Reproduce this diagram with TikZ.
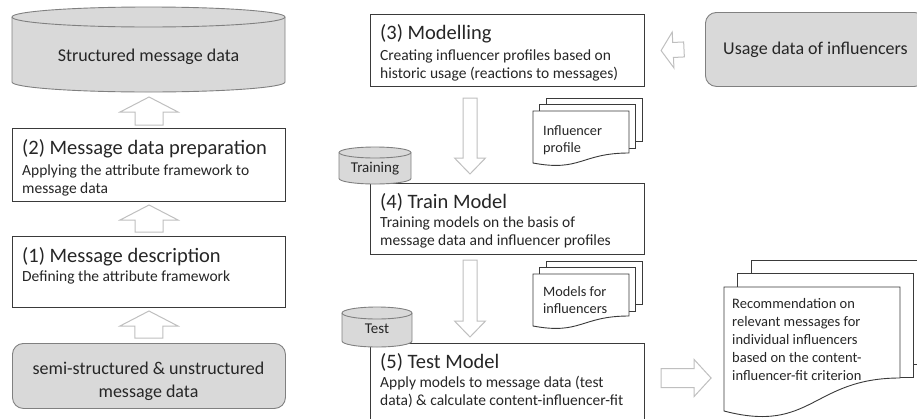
\documentclass[tikz,border=0pt]{standalone}
\usepackage{fontspec}
\setmainfont{Carlito}
\usetikzlibrary{calc}

\definecolor{boxline}{HTML}{3A3A3A}
\definecolor{grayfill}{HTML}{D9D9D9}
\definecolor{grayline}{HTML}{808080}
\definecolor{arrowline}{HTML}{BFBFBF}
\definecolor{inktext}{HTML}{262626}

\tikzset{
  stepbox/.style={draw=boxline, line width=1.1pt, fill=white, inner sep=0pt, anchor=north west},
  graybox/.style={draw=grayline, fill=grayfill, line width=0.9pt, rounded corners=11pt,
    inner sep=0pt, anchor=north west, align=center, text=inktext},
  titletext/.style={anchor=base west, inner sep=0pt, text=inktext, font=\fontsize{20.5}{24}\selectfont},
  desctext/.style={anchor=base west, inner sep=0pt, text=inktext, font=\fontsize{15.5}{18.5}\selectfont},
  cyltext/.style={inner sep=0pt, text=inktext},
  cylbody/.style={draw=grayline, fill=grayfill, line width=0.9pt},
  hollow/.style={draw=arrowline, fill=white, line width=1pt, line join=miter},
  docline/.style={draw=boxline, fill=white, line width=0.9pt},
  doctext/.style={anchor=base west, inner sep=0pt, text=inktext},
}

% Left-aligned lines (separated by \cr) whose baseline is that of the first line
\newcommand\leftlines[1]{\vtop{\halign{##\hfil\cr#1\crcr}}}

% Upright cylinder: centre x, half width, y of top ellipse centre, y of bottom ellipse centre, ellipse half height
\newcommand\cylshape[5]{%
  \draw[cylbody] (#1-#2,#3) -- (#1-#2,#4)
    arc[start angle=180, end angle=360, x radius=#2pt, y radius=#5pt]
    -- (#1+#2,#3)
    arc[start angle=0, end angle=180, x radius=#2pt, y radius=#5pt] -- cycle;
  \draw[draw=grayline, line width=0.9pt] (#1-#2,#3)
    arc[start angle=180, end angle=360, x radius=#2pt, y radius=#5pt];
}

% Stack of three pages. Front page: left x, top y, width, depth of its right corner,
% depth of its left corner, depth of the wave's lower control point;
% then the offset between pages and the height of the two back pages
\newcommand\docstack[8]{%
  \draw[docline] (#1+2*#7,#2-2*#7) rectangle (#1+2*#7+#3,#2-2*#7+#8);
  \draw[docline] (#1+#7,#2-#7) rectangle (#1+#7+#3,#2-#7+#8);
  \draw[docline] (#1,#2) -- (#1+#3,#2) -- (#1+#3,#2+#4)
    .. controls (#1+0.5*#3,#2+#4) and (#1+0.5*#3,#2+#6) .. (#1,#2+#5) -- cycle;
}

% Hollow block arrow from a tail coordinate to a tip coordinate:
% tail, tip, shaft half width, head half width, head length
\newcommand\hollowarrow[5]{%
  \coordinate (ha-base) at ($(#2)!#5pt!(#1)$);
  \draw[hollow] ($(#1)!#3pt!90:(#2)$) -- ($(ha-base)!#3pt!90:(#2)$)
    -- ($(ha-base)!#4pt!90:(#2)$) -- (#2) -- ($(ha-base)!#4pt!-90:(#2)$)
    -- ($(ha-base)!#3pt!-90:(#2)$) -- ($(#1)!#3pt!-90:(#2)$) -- cycle;
}

\begin{document}
\begin{tikzpicture}[x=1pt, y=-1pt]
\useasboundingbox (0,0) rectangle (917,418);
\clip (0,0) rectangle (917,418);

% ---------- left column ----------
\cylshape{148.5}{136.5}{17}{82}{10}
\node[cyltext, font=\fontsize{18}{22}\selectfont] (smd) at (148.5,57) {Structured message data};

\node[stepbox, minimum width=273pt, minimum height=73pt] (b2) at (12,128) {};
\node[titletext] (b2title) at (22,154) {(2) Message data preparation};
\node[desctext] (b2desc) at (22,175) {\leftlines{Applying the attribute framework to\cr message data}};

\node[stepbox, minimum width=273pt, minimum height=71pt] (b1) at (12,236) {};
\node[titletext] (b1title) at (22,262) {(1) Message description};
\node[desctext] (b1desc) at (22,281) {Defining the attribute framework};

\node[graybox, minimum width=273pt, minimum height=65pt] (raw) at (12,343) {};
\node[cyltext, align=center, font=\fontsize{18}{23}\selectfont] (rawtext) at (148.5,381) {semi-structured \& unstructured\\message data};

\coordinate (a1t) at ($(b2.north)+(0,-3)$);
\coordinate (a1h) at ($(b2.north)+(0,-31)$);
\coordinate (a2t) at ($(b1.north)+(0,-4)$);
\coordinate (a2h) at ($(b1.north)+(0,-31)$);
\coordinate (a3t) at ($(raw.north)+(0,-5)$);
\coordinate (a3h) at ($(raw.north)+(0,-32)$);
\hollowarrow{a1t}{a1h}{14}{29}{15}
\hollowarrow{a2t}{a2h}{14}{29}{15}
\hollowarrow{a3t}{a3h}{14}{29}{15}

% ---------- middle column ----------
\node[stepbox, minimum width=274pt, minimum height=72pt] (b3) at (370,14) {};
\node[titletext] (b3title) at (380,39) {(3) Modelling};
\node[desctext] (b3desc) at (380,60) {\leftlines{Creating influencer profiles based on\cr historic usage (reactions to messages)}};

\node[stepbox, minimum width=274pt, minimum height=71pt] (b4) at (370,183) {};
\node[titletext] (b4title) at (380,208) {(4) Train Model};
\node[desctext] (b4desc) at (380,227) {\leftlines{Training models on the basis of\cr message data and influencer profiles}};

\node[stepbox, minimum width=274pt, minimum height=100pt] (b5) at (370,343) {};
\node[titletext] (b5title) at (380,368) {(5) Test Model};
\node[desctext] (b5desc) at (380,387) {\leftlines{Apply models to message data (test\cr data) \& calculate content-influencer-fit}};

\cylshape{375}{36}{152.5}{178.5}{5.5}
\node[cyltext, font=\fontsize{15}{18}\selectfont] (train) at (375,169) {Training};
\cylshape{377}{35}{313}{341}{6}
\node[cyltext, font=\fontsize{15}{18}\selectfont] (test) at (377,329) {Test};

\docstack{533}{111}{96}{42}{52}{61}{6.5}{43.5}
\node[doctext, font=\fontsize{14.3}{17}\selectfont] (profile) at (543,135) {\leftlines{Influencer\cr profile}};
\docstack{533}{274}{96}{42}{52}{61}{6.5}{43.5}
\node[doctext, font=\fontsize{14.3}{17}\selectfont] (models) at (543,296) {\leftlines{Models for\cr influencers}};

\coordinate (a4t) at ($(b3.south west)+(100,11)$);
\coordinate (a4h) at ($(b4.north west)+(100,-9)$);
\coordinate (a5t) at ($(b4.south west)+(100,5)$);
\coordinate (a5h) at ($(b5.north west)+(100,-6)$);
\hollowarrow{a4t}{a4h}{7}{15.5}{16}
\hollowarrow{a5t}{a5h}{7}{15.5}{16}

% ---------- right side ----------
\node[graybox, minimum width=220pt, minimum height=74pt, font=\fontsize{18}{22}\selectfont] (usage) at (705,12) {Usage data of influencers};
\coordinate (a6t) at ($(usage.west)+(-21,0)$);
\coordinate (a6h) at ($(b3.east)+(16,0)$);
\hollowarrow{a6t}{a6h}{7.5}{18}{12}

\docstack{724}{287}{176}{91}{124}{147}{13.5}{104}
\node[doctext, font=\fontsize{14.5}{18}\selectfont] (reco) at (732,308.5)
  {\leftlines{Recommendation on\cr relevant messages for\cr individual influencers\cr based on the content-\cr influencer-fit criterion}};
\coordinate (a7t) at ($(b5.north east)+(16,35)$);
\coordinate (a7h) at ($(b5.north east)+(66,35)$);
\hollowarrow{a7t}{a7h}{9.5}{18.5}{17}

\end{tikzpicture}
\end{document}
